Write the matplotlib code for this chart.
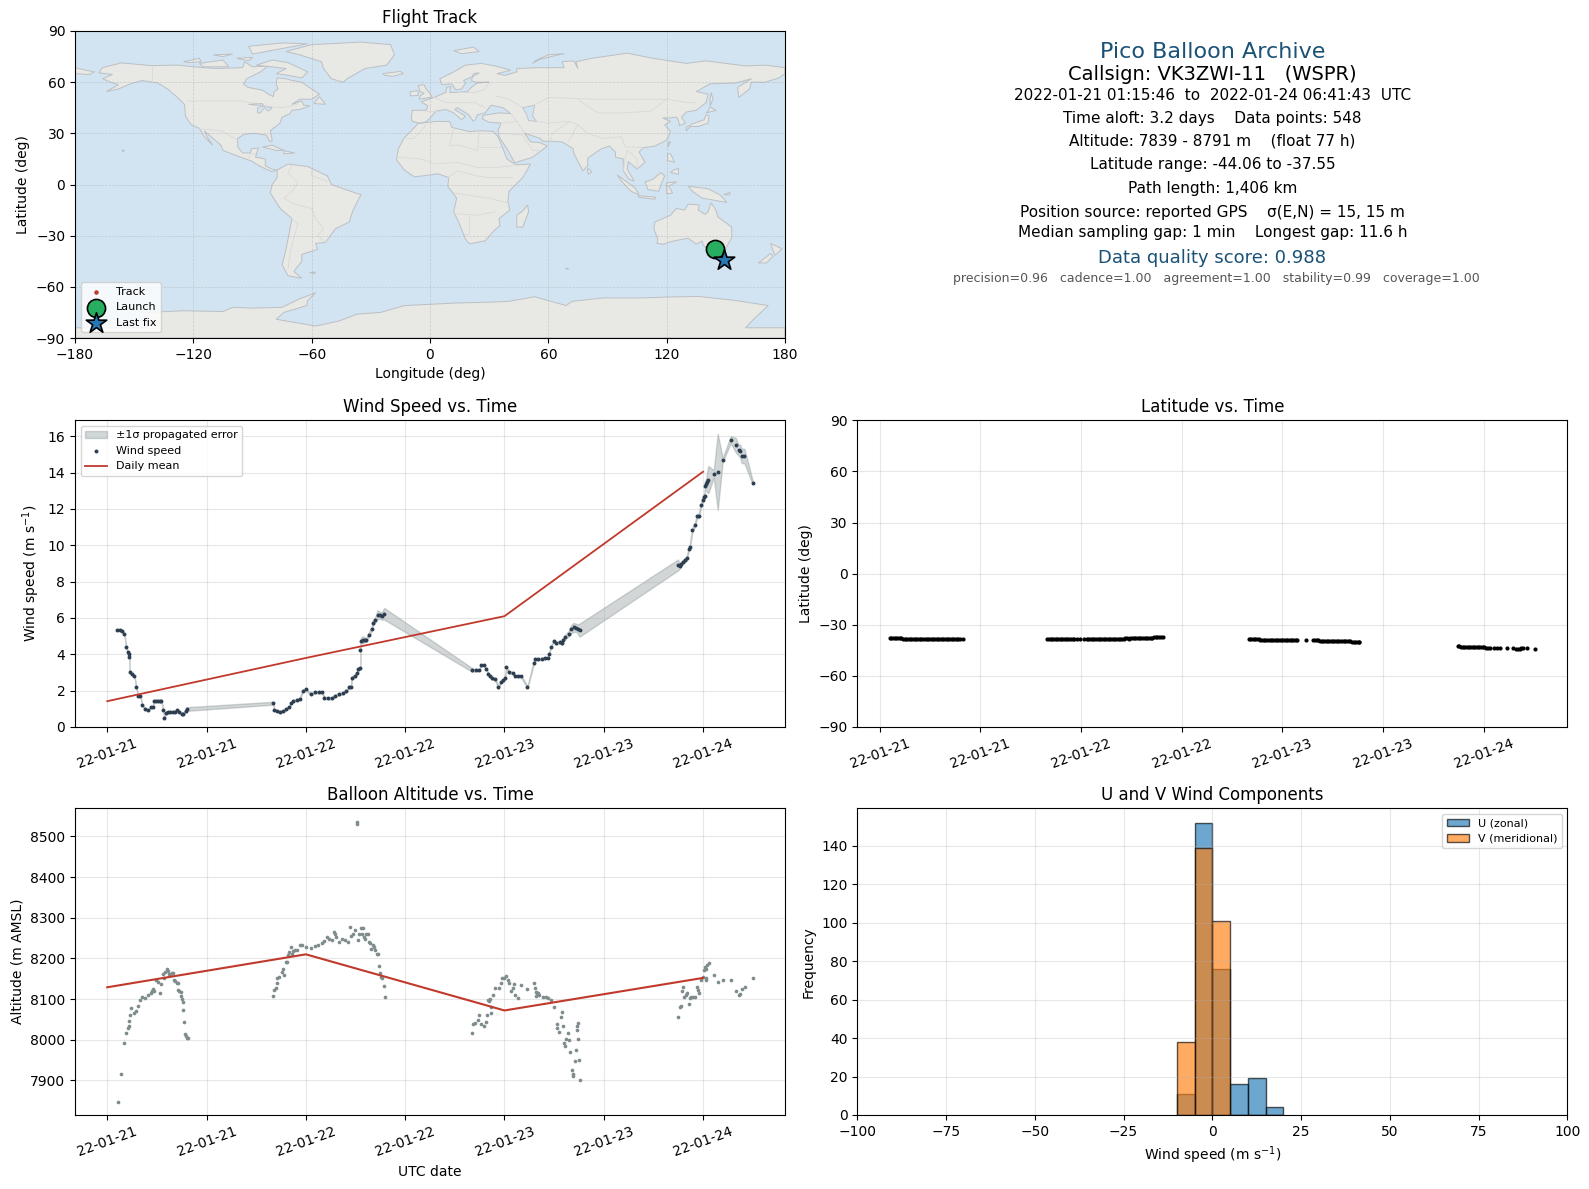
import datetime as dt

import matplotlib
matplotlib.use("Agg")
import matplotlib.dates as mdates
import matplotlib.pyplot as plt
from matplotlib.patches import Polygon

W, H = 1589, 1189
T0 = dt.datetime(2022, 1, 21)

# (hours since 2022-01-21 00:00, wind speed m/s, sigma)
WIND = [
    (1.21, 5.35, .06), (1.53, 5.35, .06), (1.77, 5.31, .06), (2.06, 5.11, .06), (2.30, 4.39, .06), (2.46, 4.12, .06),
    (2.58, 4.03, .06), (2.66, 3.88, .06), (2.70, 3.01, .06), (2.94, 2.92, .06), (3.27, 2.81, .06), (3.51, 2.19, .06),
    (3.71, 1.73, .06), (3.99, 1.71, .06), (4.23, 1.21, .06), (4.56, 0.99, .06), (4.96, 0.92, .06), (5.24, 1.10, .06),
    (5.48, 1.08, .06), (5.65, 1.43, .06), (5.90, 1.43, .06), (6.17, 1.43, .06), (6.35, 1.43, .06), (6.53, 1.43, .06),
    (6.77, 0.94, .06), (6.90, 0.48, .06), (7.10, 0.79, .06), (7.35, 0.81, .06), (7.58, 0.83, .06), (7.90, 0.83, .06),
    (8.19, 0.85, .06), (8.47, 0.94, .06), (8.71, 0.85, .06), (8.99, 0.70, .06), (9.19, 0.74, .06), (9.48, 0.88, .08),
    (9.64, 0.99, .10),
    (20.08, 1.31, .08), (20.16, 0.94, .06), (20.48, 0.90, .06), (20.89, 0.81, .06), (21.29, 0.88, .06), (21.61, 0.99, .06),
    (21.94, 1.08, .06), (22.22, 1.31, .06), (22.50, 1.43, .06), (22.98, 1.51, .06), (23.23, 1.54, .06), (23.63, 2.00, .06),
    (23.99, 2.08, .06), (24.56, 1.82, .06), (25.16, 1.91, .06), (25.55, 1.91, .06), (25.93, 1.91, .06), (26.25, 1.60, .06),
    (26.73, 1.58, .06), (27.14, 1.58, .06), (27.54, 1.73, .06), (28.02, 1.80, .06), (28.47, 1.86, .06), (28.87, 1.99, .06),
    (29.23, 2.19, .08), (29.44, 2.22, .08), (29.56, 2.67, .08), (29.96, 2.83, .08), (30.16, 2.96, .08), (30.28, 3.18, .08),
    (30.56, 3.22, .08), (30.60, 4.25, .10), (30.65, 4.76, .15), (30.89, 4.80, .20), (31.10, 4.80, .12), (31.29, 4.80, .12),
    (31.57, 5.06, .12), (31.94, 5.39, .12), (32.10, 5.72, .15), (32.38, 5.90, .15), (32.66, 6.18, .25), (32.98, 6.14, .18),
    (33.19, 6.12, .22), (33.47, 6.23, .32),
    (44.13, 3.13, .10), (44.57, 3.13, .06), (44.98, 3.13, .06), (45.14, 3.40, .06), (45.54, 3.40, .06), (45.82, 3.18, .06),
    (46.02, 2.92, .06), (46.27, 2.78, .06), (46.47, 2.67, .06), (46.87, 2.63, .06), (47.27, 2.19, .10), (47.60, 2.50, .06),
    (47.88, 2.56, .06), (48.04, 2.68, .08), (48.24, 3.29, .08), (48.52, 3.01, .08), (48.97, 2.98, .06), (49.25, 2.81, .06),
    (49.69, 2.79, .06), (50.02, 2.79, .06), (50.78, 2.19, .06), (51.51, 3.51, .10), (51.71, 3.73, .08), (52.11, 3.73, .06),
    (52.52, 3.77, .06), (52.92, 3.79, .06), (53.20, 3.81, .06), (53.36, 4.01, .06), (53.60, 4.39, .06), (53.93, 4.74, .06),
    (54.25, 4.61, .08), (54.65, 4.67, .08), (54.94, 4.61, .10), (55.06, 4.80, .12), (55.34, 4.96, .12), (55.74, 5.13, .15),
    (56.06, 5.39, .22), (56.35, 5.48, .25), (56.67, 5.46, .22), (56.83, 5.40, .25), (57.07, 5.33, .36),
    (68.97, 8.92, .30), (69.17, 8.84, .15), (69.33, 8.99, .12), (69.53, 9.08, .12), (69.77, 9.17, .12), (70.02, 9.28, .12),
    (70.26, 9.80, .12), (70.38, 9.91, .12), (70.70, 10.85, .12), (70.98, 11.10, .12), (71.27, 11.60, .12), (71.47, 11.62, .12),
    (71.75, 12.22, .12), (71.95, 12.52, .18), (72.07, 12.65, .18), (72.19, 12.72, .18), (72.23, 13.29, .25), (72.40, 13.35, .35),
    (72.48, 13.47, .55), (72.64, 13.62, .75), (73.29, 13.93, .20), (73.77, 14.04, 2.10), (74.37, 14.71, .10), (75.34, 15.81, .20),
    (75.95, 15.51, .40), (76.31, 15.22, .30), (76.47, 15.20, .35), (76.67, 14.93, .40), (77.00, 14.91, .40), (78.00, 13.44, .10),
]

WIND_DAILY_H = [0, 24, 48, 72]
WIND_DAILY = [1.42, 3.80, 6.10, 14.05]

# (hours, altitude m)
ALT = [
    (1.33, 7848), (1.69, 7915), (2.06, 7993), (2.30, 8016), (2.46, 8030), (2.58, 8034), (2.66, 8045), (2.70, 8060),
    (2.90, 8077), (3.27, 8065), (3.51, 8070), (3.75, 8082), (3.99, 8097), (4.23, 8104), (4.56, 8102), (4.96, 8111),
    (5.24, 8114), (5.36, 8119), (5.48, 8124), (5.65, 8120), (5.89, 8147), (6.17, 8143), (6.41, 8114), (6.53, 8136),
    (6.77, 8161), (6.90, 8151), (7.02, 8167), (7.18, 8175), (7.30, 8170), (7.46, 8161), (7.58, 8159), (7.78, 8165),
    (7.98, 8163), (8.10, 8148), (8.19, 8145), (8.39, 8139), (8.55, 8140), (8.51, 8122), (8.71, 8120), (8.91, 8118),
    (8.87, 8107), (9.03, 8099), (9.19, 8093), (9.21, 8073), (9.31, 8043), (9.35, 8013), (9.52, 8009), (9.60, 8004),
    (9.72, 8005),
    (20.08, 8107), (20.20, 8122), (20.36, 8126), (20.48, 8151), (20.56, 8139), (20.81, 8155), (21.09, 8167), (21.29, 8175),
    (21.37, 8158), (21.57, 8190), (21.69, 8192), (21.90, 8208), (22.02, 8216), (22.18, 8229), (22.38, 8212), (22.50, 8219),
    (22.74, 8220), (22.98, 8220), (23.23, 8233), (23.59, 8234), (23.99, 8227), (24.56, 8225), (25.16, 8230), (25.52, 8233),
    (25.93, 8237), (26.25, 8243), (26.61, 8253), (26.85, 8247), (27.14, 8245), (27.42, 8266), (27.58, 8260), (27.60, 8253),
    (27.98, 8241), (28.35, 8247), (28.75, 8245), (29.07, 8241), (29.35, 8276), (29.40, 8255), (29.68, 8261), (29.96, 8270),
    (30.12, 8535), (30.16, 8530), (30.28, 8245), (30.44, 8261), (30.65, 8274), (30.89, 8274), (30.77, 8260), (31.05, 8253),
    (31.29, 8261), (31.45, 8261), (31.17, 8248), (31.57, 8241), (31.77, 8237), (31.85, 8223), (32.10, 8234), (32.26, 8229),
    (32.38, 8220), (32.58, 8212), (32.70, 8210), (32.78, 8182), (32.90, 8163), (33.06, 8155), (33.19, 8151), (33.39, 8131),
    (33.51, 8104),
    (44.13, 8016), (44.25, 8038), (44.49, 8040), (44.85, 8048), (44.98, 8060), (45.18, 8038), (45.50, 8033), (45.82, 8043),
    (45.94, 8062), (46.39, 8065), (46.41, 8080), (46.02, 8098), (46.10, 8095), (46.27, 8099), (46.67, 8111), (46.91, 8126),
    (47.31, 8127), (47.52, 8139), (47.76, 8153), (48.00, 8152), (48.24, 8156), (48.44, 8147), (48.60, 8139), (48.73, 8119),
    (49.01, 8128), (49.21, 8136), (49.29, 8109), (49.69, 8102), (49.94, 8134), (50.78, 8124), (51.51, 8139), (51.63, 8126),
    (51.75, 8117), (51.77, 8108), (51.91, 8114), (52.07, 8116), (52.23, 8110), (52.64, 8105), (53.04, 8106), (53.32, 8102),
    (53.60, 8098), (53.93, 8080), (54.98, 8067), (54.81, 8055), (54.29, 8038), (55.02, 8033), (54.33, 8028), (54.53, 8020),
    (55.62, 8016), (55.38, 8003), (55.74, 7999), (56.87, 8040), (56.79, 8034), (56.71, 8025), (56.83, 8003), (55.14, 7991),
    (55.26, 7984), (56.59, 7974), (55.86, 7969), (56.47, 7947), (56.95, 7949), (56.10, 7925), (56.23, 7917), (56.27, 7912),
    (57.11, 7900),
    (68.93, 8055), (69.17, 8081), (69.29, 8084), (69.45, 8119), (69.53, 8130), (69.65, 8104), (69.90, 8110), (70.02, 8114),
    (70.26, 8089), (70.38, 8102), (70.55, 8104), (70.79, 8104), (71.03, 8106), (71.27, 8130), (71.35, 8122), (71.47, 8114),
    (71.75, 8147), (71.95, 8155), (72.11, 8171), (72.19, 8180), (72.35, 8175), (72.48, 8184), (72.68, 8188), (72.33, 8153),
    (72.37, 8146), (73.29, 8158), (73.77, 8143), (74.37, 8146), (75.34, 8148), (75.95, 8119), (76.31, 8111), (76.43, 8112),
    (76.67, 8124), (77.03, 8129), (78.00, 8151),
]

ALT_DAILY_H = [0, 24, 48, 72]
ALT_DAILY = [8129, 8210, 8072, 8152]

# (hours, latitude deg)
LAT = [
    (1.2, -38.0), (1.4, -38.0), (1.6, -37.9), (1.8, -37.9), (2.0, -37.9), (2.2, -37.9), (2.4, -37.9), (2.6, -38.0),
    (2.8, -38.1), (3.0, -38.2), (3.2, -38.3), (3.4, -38.4), (3.6, -38.4), (3.8, -38.5), (4.0, -38.5), (4.2, -38.5),
    (4.4, -38.5), (4.6, -38.4), (4.8, -38.4), (5.0, -38.3), (5.2, -38.4), (5.4, -38.4), (5.6, -38.4), (5.8, -38.4),
    (6.0, -38.5), (6.2, -38.4), (6.4, -38.5), (6.6, -38.4), (6.8, -38.5), (7.0, -38.5), (7.2, -38.4), (7.4, -38.4),
    (7.6, -38.5), (7.8, -38.4), (8.0, -38.4), (8.2, -38.5), (8.4, -38.4), (8.6, -38.4), (8.8, -38.4), (9.0, -38.5),
    (9.2, -38.4), (9.4, -38.4), (9.6, -38.4), (9.9, -38.4),
    (20.0, -38.5), (20.2, -38.5), (20.4, -38.5), (20.6, -38.5), (20.8, -38.5), (21.0, -38.6), (21.2, -38.5), (21.4, -38.5),
    (21.6, -38.5), (21.8, -38.5), (22.0, -38.5), (22.2, -38.5), (22.4, -38.5), (22.6, -38.5), (22.8, -38.5), (23.0, -38.5),
    (23.2, -38.4), (23.5, -38.4), (23.9, -38.1), (24.4, -38.1), (24.7, -38.2), (24.9, -38.2), (25.1, -38.2), (25.3, -38.2),
    (25.5, -38.2), (25.7, -38.2), (25.9, -38.2), (26.1, -38.2), (26.3, -38.2), (26.5, -38.2), (26.7, -38.2), (26.9, -38.2),
    (27.1, -38.2), (27.3, -38.2), (27.5, -38.2), (27.7, -38.2), (27.9, -38.2), (28.1, -38.1), (28.3, -38.1), (28.5, -38.1),
    (28.7, -38.1), (28.9, -38.1), (29.1, -38.1), (29.3, -38.0), (29.5, -38.0), (29.7, -38.1), (29.9, -38.0), (30.1, -38.0),
    (30.3, -38.0), (30.5, -38.0), (30.7, -38.0), (30.9, -37.9), (31.1, -38.0), (31.3, -37.9), (31.5, -37.9), (31.7, -37.9),
    (31.9, -37.8), (32.1, -37.7), (32.3, -37.5), (32.5, -37.5), (32.7, -37.4), (32.9, -37.4), (33.1, -37.4), (33.3, -37.4),
    (33.5, -37.4), (33.8, -37.4),
    (44.0, -38.4), (44.2, -38.4), (44.4, -38.4), (44.6, -38.4), (44.8, -38.3), (45.0, -38.4), (45.2, -38.4), (45.4, -38.7),
    (45.6, -38.8), (45.8, -38.8), (46.0, -38.9), (46.2, -38.9), (46.4, -38.9), (46.6, -38.9), (46.8, -38.9), (47.0, -38.9),
    (47.2, -38.9), (47.4, -38.9), (47.6, -38.9), (47.8, -38.9), (48.0, -38.9), (48.2, -38.9), (48.4, -38.9), (48.6, -39.0),
    (48.8, -39.0), (49.0, -39.0), (49.2, -39.0), (49.4, -39.0), (49.6, -39.0), (49.8, -38.9), (50.8, -39.1),
    (51.7, -39.1), (51.9, -39.0), (52.1, -39.1), (52.3, -39.2), (52.5, -39.4), (52.7, -39.4), (52.9, -39.5), (53.1, -39.5),
    (53.3, -39.5), (53.5, -39.5), (53.7, -39.5), (53.9, -39.5), (54.1, -39.5), (54.3, -39.6), (54.5, -39.6), (54.7, -39.6),
    (54.9, -39.6), (55.1, -39.7), (55.3, -39.7), (55.5, -39.7), (55.7, -39.7), (55.9, -39.8), (56.1, -39.8), (56.3, -39.9),
    (56.5, -39.9), (56.7, -40.1), (56.9, -40.3), (57.1, -40.4), (57.2, -40.4),
    (68.9, -42.7), (69.1, -42.7), (69.3, -42.8), (69.5, -42.8), (69.7, -43.0), (69.9, -43.1), (70.1, -43.2), (70.3, -43.2),
    (70.5, -43.3), (70.7, -43.3), (70.9, -43.3), (71.1, -43.3), (71.3, -43.3), (71.5, -43.3), (71.7, -43.3), (71.9, -43.3),
    (72.1, -43.3), (72.3, -43.4), (72.5, -43.5), (72.8, -43.8), (73.2, -43.9), (73.6, -43.9), (74.0, -43.9), (74.8, -43.9),
    (75.5, -43.9), (75.9, -44.0), (76.1, -44.0), (76.3, -44.0), (76.5, -43.9), (76.7, -43.9), (77.2, -43.9), (78.1, -44.0),
]

HIST_EDGES = [-10, -5, 0, 5, 10, 15]
U_COUNTS = [11, 152, 76, 16, 19, 4]
V_COUNTS = [38, 139, 101, 0, 0, 0]

TRACK_LON = [144.3, 144.8, 145.4, 146.1, 146.8, 147.5, 148.2, 149.0]
TRACK_LAT = [-38.0, -38.3, -38.5, -39.0, -39.8, -41.5, -43.0, -44.0]

NORTH_AMERICA = [(-168,65.5),(-166,68.5),(-156.5,71.3),(-141,69.7),(-128,70),(-115,68.5),(-108,68),(-95,68.5),(-94,72),(-90,69),(-82,69.5),(-86,66),(-93,62),(-94.5,59),(-92.5,57),(-85,55.3),(-82,53),(-79.5,51.5),(-79,54.5),(-77,56),(-78,59),(-77.5,62.5),(-73,62),(-70,61),(-65,60),(-62,57.5),(-56,53),(-60,50),(-66,50),(-70,47),(-65,49),(-64,46.5),(-61,46),(-66,44),(-70,43.5),(-71,41.5),(-75,39.5),(-76,36),(-81,31.5),(-80,26),(-81,25),(-83,29),(-89,30),(-94,29.5),(-97.5,27),(-97.5,22),(-95,18.5),(-91,18.5),(-90.5,21),(-87,21.5),(-88.5,16),(-83.5,15),(-83.5,11),(-80,9),(-77.5,8.5),(-80,7.5),(-85,10),(-91,14),(-96,16),(-105,20),(-106,23),(-112,29),(-114.5,31.5),(-112,26),(-110,23),(-112,25),(-115,29),(-117,33),(-121,35),(-124,40),(-124.5,47),(-128,51),(-133,56),(-138,59.5),(-146,61),(-152,59),(-158,56),(-164,54.5),(-158,58.5),(-162,60),(-166,62),(-161,64.5)]
SOUTH_AMERICA = [(-77.5,8.5),(-72,12),(-62,10.5),(-52,5),(-50,0),(-44,-2.5),(-35,-6),(-39,-15),(-41,-22),(-48,-26),(-53,-34),(-58,-34.5),(-57,-38),(-65,-41),(-65,-45),(-69,-51),(-65,-55),(-72,-53.5),(-75,-47),(-73,-38),(-70,-20),(-76,-14),(-81,-5),(-80,0),(-77.5,4)]
AFRICA = [(-6,35.8),(3,37),(10,37),(11,33.5),(20,31),(25,31.5),(32,31.2),(34.5,28),(37,21),(39,15),(43.5,11.5),(51,12),(47,4),(40,-4),(39.5,-10),(40.5,-15),(35,-20),(35.5,-24),(32.5,-27),(28,-33),(20,-34.8),(18,-32),(14.5,-22),(12,-16),(13.5,-8),(9,-1),(9.5,4),(4,6.3),(-4,5),(-8,4.5),(-13,8.5),(-17,14.5),(-16,21),(-13,27.5),(-9.5,31.5)]
EURASIA = [(-9,37),(-9.5,39),(-9,43.5),(-2,43.5),(-1,46),(-4.5,48.5),(2,51),(8,54),(8.5,57),(10.5,57.5),(10,54),(14,54),(19,54.5),(21,57),(24,59.5),(30,60),(23,60),(21,61),(22,65),(25,65.5),(21,63),(17,61),(18,59.5),(16,56),(13,55.5),(11,59),(6,58.5),(5,62),(12,66),(18,70),(26,71),(33,69.5),(41,67),(34,65),(38,64),(44,66),(44,68),(55,68.5),(68,68.5),(67,72),(73,72.5),(75,68),(74,72),(82,74),(100,77),(113,74),(130,71),(140,72.5),(160,69.5),(170,70),(180,68.5),(180,65),(177,62.5),(170,60),(163,60),(162,56),(156.5,51),(156,57),(163,62),(155,59.5),(142,59),(135,54.5),(141,53),(140,48),(135,43.5),(130,42.5),(127.5,39.5),(129.5,36),(126.5,34.5),(126,37.5),(125,39.5),(121,39),(118,39),(122,37),(119,35),(122,31),(120,26),(114,22.5),(108,21.5),(106,19),(109,13),(105,9),(100.5,13.5),(100,9),(103.5,2),(101,3),(98,8),(98,15),(94,16),(94,19),(91,22.5),(87,21),(80,15.5),(80,11),(77.5,8),(73,18),(72.5,21),(67,25),(57,25.5),(56,27),(48,30),(51,25),(56,24.5),(59.5,22.5),(52,16),(43,12.7),(39,21),(35,28),(34.5,31.5),(36,36),(30,36.5),(26.5,38.5),(27,40.5),(35,42),(41,41.5),(37,45),(31,46.5),(28,42),(24,40.8),(23,38),(22,37),(19.5,41),(14,45),(12.5,44),(18,40),(16,38),(12,42),(8,44),(3,43),(0,39),(-2,36.7),(-5.5,36)]
AUSTRALIA = [(114,-22),(113.5,-26),(115.5,-32),(115,-34.5),(118,-35),(124,-33),(131,-31.5),(135,-35),(138,-33),(138.5,-35.5),(141,-38),(146,-39),(150,-37.5),(153,-31),(153,-25),(146,-19),(145,-15),(142.5,-10.7),(141,-16),(139.5,-17.5),(136,-15),(136.5,-12),(131,-11.5),(129,-15),(125,-14),(122,-18),(116,-21)]
GREENLAND = [(-73,78),(-60,82),(-35,83.5),(-20,82),(-18,76),(-22,70),(-33,68),(-42,62),(-44,60),(-50,62),(-54,68),(-55,72),(-66,76)]
ANTARCTICA = [(-180,-84),(-143,-84),(-143,-75),(-125,-74),(-105,-74.5),(-100,-72),(-90,-72.5),(-75,-72),(-66,-67),(-58,-63.5),(-62,-68),(-62.5,-71),(-74,-75),(-78,-79),(-58,-83),(-46,-80),(-37,-76),(-25,-75),(-13,-71),(13,-69.5),(30,-69),(40,-68.5),(53,-65.8),(69,-71),(72,-68.5),(88,-66.5),(108,-66.5),(120,-66),(136,-65.6),(155,-68),(171.5,-71),(165,-78),(160,-84),(180,-84),(180,-90),(-180,-90)]
ISLANDS = [
    [(-180,68.5),(-175,67.2),(-170,66),(-173,64.5),(-180,65)],
    [(-80,73),(-72,71.5),(-62,66),(-65,62.5),(-72,64),(-78,65),(-73,68),(-88,70)],
    [(-117,71),(-105,73),(-102,69),(-115,69)],
    [(-90,76.5),(-62,82.5),(-75,83),(-92,81)],
    [(-125,72),(-117,74),(-116,72),(-122,71.5)],
    [(-110,76),(-100,76.5),(-105,75)],
    [(-98,74),(-90,74.5),(-92,72.5)],
    [(-59,47.5),(-53,47),(-56,51.5)],
    [(-85,22),(-80,23),(-74,20),(-78,20)],
    [(-74,19.8),(-68.5,18.5),(-74,18)],
    [(-24,65),(-15,66.3),(-13.5,65),(-19,63.4),(-23,64)],
    [(-5.5,50),(1,51.2),(0,53.5),(-2,56),(-3,58.5),(-6,58),(-5,54.5),(-3,53.5),(-5,52)],
    [(-10,52),(-6,52.2),(-6,55),(-10,54.5)],
    [(12,78.5),(22,80.5),(25,78),(16,76.7)],
    [(52,71),(56,73.5),(68,76.8),(60,76),(54,73)],
    [(130,31.5),(132,34),(136,34),(141,36),(141.5,40),(140,41),(139,38),(133,35.5),(130,33.5)],
    [(140,42),(145,43.5),(142,45.5),(141,43)],
    [(142,46),(143.5,50),(142.5,54),(142,50)],
    [(120.5,22),(122,25),(121,25)],
    [(120.5,18),(122,18),(124,13),(120.5,14)],
    [(122,7),(126,6),(126,9.5),(123.5,8.5)],
    [(109,1.5),(113,3),(117,7),(119,5),(117.5,1),(116,-4),(110.5,-3)],
    [(95,5.5),(104,-2),(106,-6),(102,-4),(97,2)],
    [(105.5,-6.5),(114.5,-7.5),(114,-8.7),(106,-7.5)],
    [(120,1),(125,1.5),(121,-1),(123,-5),(120,-5.5)],
    [(131,-1),(141,-2.5),(147,-6),(150.5,-10.5),(143,-9),(138,-8),(133,-4)],
    [(172.7,-34.5),(178.5,-37.7),(175,-41.5),(174,-39)],
    [(172.5,-40.5),(174,-42),(170.5,-46),(166.5,-46),(171,-42)],
    [(145,-41),(148,-41),(147.5,-43.5),(146,-43.5)],
    [(49.5,-12),(50,-16),(47,-25),(44,-25),(44,-18),(47,-15.5)],
    [(80,9.5),(82,7.5),(80.5,6),(79.8,8)],
    [(-61,-51.5),(-58,-51.5),(-59,-52.3)],
    [(69,-49),(70.5,-49.5),(69,-49.7)],
    [(-156,20.5),(-155,19.8),(-155.6,19)],
    [(149,-6),(152,-4.5),(152,-6)],
]
LAKES = [
    [(47,45),(53,46.5),(52,40),(54,37),(50,37.5),(49,41)],
    [(-92,47),(-85,47.5),(-84.5,46.5),(-88,46.5)],
    [(-87.5,45),(-85,46),(-80,45),(-82,43),(-84,45),(-86,42),(-87.5,42)],
]
BORDERS = [
    [(-123,49),(-95,49),(-83,46),(-75,45),(-67,47)],
    [(-141,69.7),(-141,60)],
    [(-117,32.5),(-106,31.7),(-97.5,26)],
    [(-92,14.5),(-91,18),(-88.5,18)],
    [(-70,11),(-72,7),(-67,1),(-70,-4),(-74,-8),(-70,-11),(-60,-14),(-58,-20),(-54,-26),(-57,-30),(-53,-34)],
    [(-60,8),(-60,5),(-52,2)],
    [(-70,-20),(-67,-23),(-71,-40),(-72,-50)],
    [(-2,35),(-8,27),(-13,27)],
    [(12,33),(10,23),(15,23),(24,20),(25,31)],
    [(25,22),(36,22)],
    [(-16,16),(-5,15),(3,12),(14,13),(24,10),(34,10),(42,11)],
    [(9,4),(14,8),(24,5),(30,4),(42,4)],
    [(12,-5),(30,-8),(40,-11)],
    [(12,-17),(24,-18),(33,-16)],
    [(20,-18),(20,-29),(17,-29)],
    [(-2,43),(3,43)],
    [(2,51),(8,48),(14,48),(23,48),(28,45)],
    [(14,54),(23,54),(28,56),(30,60)],
    [(33,52),(40,50),(47,45)],
    [(53,46.5),(60,51),(85,50),(98,50),(120,50),(131,48),(135,48)],
    [(54,37),(60,36),(71,37),(75,35),(80,30),(88,27),(97,28),(99,22),(102,22),(108,21.5)],
    [(61,25),(62,30),(71,37)],
    [(75,35),(70,25)],
    [(36,36),(44,37),(48,30)],
    [(35,30),(47,29),(52,20),(55,20)],
    [(44,37),(41,41.5)],
    [(98,8),(99,15),(100,20),(105,15),(105,9)],
    [(75,50),(85,42),(98,42),(112,43),(120,50)],
]

SUMMARY = [
    ("Pico Balloon Archive", 16, "#1a5276", 52),
    ("Callsign: VK3ZWI-11   (WSPR)", 14, "black", 75),
    ("2022-01-21 01:15:46  to  2022-01-24 06:41:43  UTC", 11, "black", 95),
    ("Time aloft: 3.2 days    Data points: 548", 11, "black", 118),
    ("Altitude: 7839 - 8791 m    (float 77 h)", 11, "black", 141),
    ("Latitude range: -44.06 to -37.55", 11, "black", 164),
    ("Path length: 1,406 km", 11, "black", 188),
    ("Position source: reported GPS    σ(E,N) = 15, 15 m", 11, "black", 212),
    ("Median sampling gap: 1 min    Longest gap: 11.6 h", 11, "black", 233),
    ("Data quality score: 0.988", 13, "#1a5276", 258),
    ("precision=0.96   cadence=1.00   agreement=1.00   stability=0.99   coverage=1.00", 9, "#555555", 279),
]

GRAY_BAND = "#7f8c8d"
NAVY = "#2c3e50"
RED = "#c0392b"


def add_ax(fig, left, top, right, bottom):
    return fig.add_axes([left / W, 1 - bottom / H, (right - left) / W, (bottom - top) / H])


def to_dates(hours):
    return [T0 + dt.timedelta(hours=h) for h in hours]


def date_axis(ax, first_h, last_h):
    ax.set_xlim(T0 + dt.timedelta(hours=first_h), T0 + dt.timedelta(hours=last_h))
    ax.xaxis.set_major_locator(mdates.HourLocator(byhour=[0, 12]))
    ax.xaxis.set_major_formatter(mdates.DateFormatter("%y-%m-%d"))
    ax.tick_params(axis="x", labelrotation=20)
    ax.grid(True, alpha=0.3)


fig = plt.figure(figsize=(W / 100, H / 100), dpi=100)

# map
ax_map = add_ax(fig, 75, 31, 785, 338)
ax_map.set_facecolor("#d2e4f1")
for poly in [NORTH_AMERICA, SOUTH_AMERICA, AFRICA, EURASIA, AUSTRALIA, GREENLAND, ANTARCTICA] + ISLANDS:
    ax_map.add_patch(Polygon(poly, closed=True, facecolor="#e8e8e4", edgecolor="#bcc0c4", linewidth=0.7, zorder=1))
for poly in LAKES:
    ax_map.add_patch(Polygon(poly, closed=True, facecolor="#d2e4f1", edgecolor="#bcc0c4", linewidth=0.6, zorder=1.3))
for line in BORDERS:
    ax_map.plot([p[0] for p in line], [p[1] for p in line], color="#d9dad8", lw=0.6, zorder=1.2)
ax_map.grid(True, color="#9aa0a0", linestyle="--", linewidth=0.5, alpha=0.4, zorder=1.5)
ax_map.scatter(TRACK_LON, TRACK_LAT, s=5, color=RED, zorder=3, label="Track")
ax_map.scatter(TRACK_LON[0], TRACK_LAT[0], s=170, color="#27ae60", edgecolor="black", linewidth=1.2, zorder=4, label="Launch")
ax_map.scatter(TRACK_LON[-1], TRACK_LAT[-1], s=240, marker="*", color="#2478b4", edgecolor="black", linewidth=1.2, zorder=5, label="Last fix")
ax_map.set_xlim(-180, 180)
ax_map.set_ylim(-90, 90)
ax_map.set_xticks([-180, -120, -60, 0, 60, 120, 180])
ax_map.set_yticks([-90, -60, -30, 0, 30, 60, 90])
ax_map.set_xlabel("Longitude (deg)")
ax_map.set_ylabel("Latitude (deg)")
ax_map.set_title("Flight Track", fontsize=12)
ax_map.legend(loc="lower left", fontsize=8)

# summary text
for txt, size, color, y in SUMMARY:
    x = 1216.5 if txt.startswith("precision") else 1212.5
    fig.text(x / W, 1 - y / H, txt, fontsize=size, color=color, ha="center", va="center")

# wind speed
ax_wind = add_ax(fig, 75, 420.3, 785, 727)
wind_h = [p[0] for p in WIND]
wind_v = [p[1] for p in WIND]
wind_s = [p[2] for p in WIND]
ax_wind.fill_between(to_dates(wind_h), [v - s for v, s in zip(wind_v, wind_s)], [v + s for v, s in zip(wind_v, wind_s)],
                     color=GRAY_BAND, alpha=0.35, label="±1σ propagated error")
ax_wind.scatter(to_dates(wind_h), wind_v, s=8, linewidths=0, color=NAVY, zorder=3, label="Wind speed")
ax_wind.plot(to_dates(WIND_DAILY_H), WIND_DAILY, color=RED, lw=1.3, zorder=4, label="Daily mean")
date_axis(ax_wind, -3.9, 81.9)
ax_wind.set_ylim(0, 16.88)
ax_wind.set_yticks(range(0, 17, 2))
ax_wind.set_ylabel("Wind speed (m s$^{-1}$)")
ax_wind.set_title("Wind Speed vs. Time", fontsize=12)
ax_wind.legend(loc="upper left", fontsize=8)

# latitude
ax_lat = add_ax(fig, 857.3, 420.3, 1567.3, 727)
ax_lat.scatter(to_dates([p[0] for p in LAT]), [p[1] for p in LAT], s=9, linewidths=0, color="black", zorder=3)
date_axis(ax_lat, -2.65, 81.97)
ax_lat.set_ylim(-90, 90)
ax_lat.set_yticks([-90, -60, -30, 0, 30, 60, 90])
ax_lat.set_ylabel("Latitude (deg)")
ax_lat.set_title("Latitude vs. Time", fontsize=12)

# altitude
ax_alt = add_ax(fig, 75, 808.3, 785, 1115)
ax_alt.scatter(to_dates([p[0] for p in ALT]), [p[1] for p in ALT], s=7, linewidths=0, color=GRAY_BAND, zorder=3)
ax_alt.plot(to_dates(ALT_DAILY_H), ALT_DAILY, color=RED, lw=1.5, zorder=4)
date_axis(ax_alt, -3.9, 81.9)
ax_alt.set_ylim(7815, 8569)
ax_alt.set_xlabel("UTC date")
ax_alt.set_ylabel("Altitude (m AMSL)")
ax_alt.set_title("Balloon Altitude vs. Time", fontsize=12)

# histogram
ax_hist = add_ax(fig, 857.3, 808.3, 1567.3, 1115)
ax_hist.bar(HIST_EDGES, U_COUNTS, width=5, align="edge", color="C0", alpha=0.65, edgecolor="black", label="U (zonal)")
ax_hist.bar(HIST_EDGES, V_COUNTS, width=5, align="edge", color="C1", alpha=0.65, edgecolor="black", label="V (meridional)")
ax_hist.set_xlim(-100, 100)
ax_hist.set_ylim(0, 159.6)
ax_hist.grid(True, alpha=0.3)
ax_hist.set_xlabel("Wind speed (m s$^{-1}$)")
ax_hist.set_ylabel("Frequency")
ax_hist.set_title("U and V Wind Components", fontsize=12)
ax_hist.legend(loc="upper right", fontsize=8)

fig.savefig("out.png", dpi=100)
